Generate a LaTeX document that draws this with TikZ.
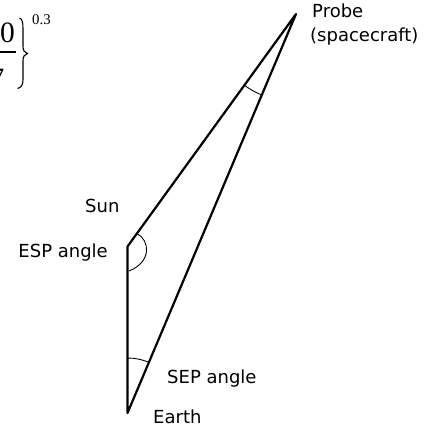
\documentclass[tikz,border=0pt]{standalone}
\usepackage{fontspec}
\setmainfont{DejaVu Sans}
\newfontfamily\serifnum{Liberation Serif}
\usetikzlibrary{calc}
\begin{document}
\begin{tikzpicture}[x=1pt,y=1pt,
  lbl/.style={font=\fontsize{18}{22}\selectfont, inner sep=0pt},
  side/.style={line width=2.2pt, line cap=round, line join=round},
  anglemark/.style={line width=0.9pt},
  bignum/.style={font=\serifnum\fontsize{29.5}{32}\selectfont, inner sep=0pt},
  expnum/.style={font=\serifnum\fontsize{14.8}{16}\selectfont, inner sep=0pt}]
\useasboundingbox (0,0) rectangle (438,-430);
\clip (0,0) rectangle (438,-430);
% fragment of formula
\node[bignum, anchor=base east] (num) at (15,-43) {0};
\node[bignum, anchor=base east] (den) at (4.5,-89) {7};
\coordinate (barL) at (-2,-52);
\coordinate (barR) at (16,-52);
\draw[line width=1.1pt] (barL) -- (barR);
\draw[line width=1.1pt] (19.5,-18) .. controls (22.5,-19) and (23,-23) .. (23,-29) -- (23,-46)
  .. controls (23,-50.5) and (24.5,-52.8) .. (27.5,-53.5)
  .. controls (24.5,-54.2) and (23,-56.5) .. (23,-61) -- (23,-80)
  .. controls (23,-85) and (21,-87.5) .. (17.5,-88.5);
\node[expnum, anchor=base west] (expo) at (32,-25) {0.3};
% triangle
\coordinate (P) at (296,-14);
\coordinate (S) at (127.5,-246.5);
\coordinate (E) at (127.5,-413);
\draw[side] (S) -- (P) -- (E) -- (S);
% angle marks
\draw[anglemark] ($(P)+(234.07:88)$) arc[start angle=234.07, end angle=247.1, radius=88];
\draw[anglemark] ($(E)+(67.1:55)$) arc[start angle=67.1, end angle=90, radius=55];
\draw[anglemark] ($(S)!16pt!(P)$) .. controls (150,-240) and (152,-262) .. (129,-271);
% labels
\node[lbl, anchor=base west] (probe) at (312,-18) {Probe};
\node[lbl, anchor=base west] (craft) at (310,-42) {(spacecraft)};
\node[lbl, anchor=base west] (sun) at (85,-212) {Sun};
\node[lbl, anchor=base east] (esp) at (108,-257) {ESP angle};
\node[lbl, anchor=base west] (sep) at (167,-383) {SEP angle};
\node[lbl, anchor=base west] (earth) at (153,-423) {Earth};
\end{tikzpicture}
\end{document}
